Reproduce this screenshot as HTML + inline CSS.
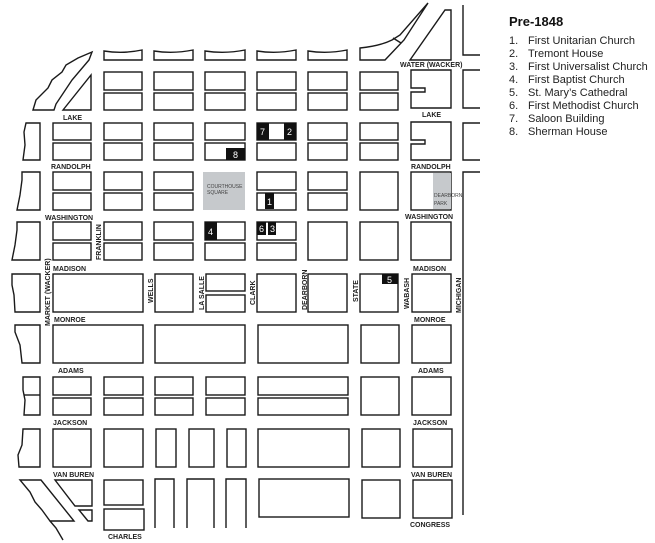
<!DOCTYPE html>
<html><head><meta charset="utf-8"><style>
html,body{margin:0;padding:0;background:#fff;}
svg{display:block;}
.b{fill:#fff;stroke:#1a1a1a;stroke-width:1.4;}
.l{font-family:"Liberation Sans",sans-serif;font-weight:bold;font-size:7px;fill:#222;}
.n{font-family:"Liberation Sans",sans-serif;font-size:9px;fill:#fff;}
.g{fill:#c6c9cc;}
.lg{font-family:"Liberation Sans",sans-serif;font-size:11px;fill:#222;}
</style></head><body>
<svg width="655" height="543" viewBox="0 0 655 543" xmlns="http://www.w3.org/2000/svg">
<g class="b">
<!-- river top blocks -->
<path d="M104 51 Q123 54 142 50 V60 H104Z"/>
<path d="M154 51 Q173 54 193 50 V60 H154Z"/>
<path d="M205 51 Q225 54 245 50 V60 H205Z"/>
<path d="M257 51 Q276 54 296 50 V60 H257Z"/>
<path d="M308 51 Q327 54 347 50 V60 H308Z"/>
<path d="M360 48 Q380 46 392 40 L400 35 L428 3 L404 40 L385 60 H360Z"/>
<path d="M393 38 L401 43"/>
<path d="M410 60 L445 10 H451 V60Z"/>
<!-- top left diagonals -->
<path d="M33 110 L36 100 L48 88 L52 80 L62 72 L66 65 L78 58 L92 52 L89 60 L72 80 L56 104 L54 110Z"/>
<path d="M63 110 L91 75 V110Z"/>
<!-- right edge -->
<path d="M463 5 V55 H480" fill="none"/>
<path d="M480 70 H463 V108 H480" fill="none"/>
<path d="M480 123 H463 V160 H480" fill="none"/>
<path d="M480 172 H463 V515" fill="none"/>
<!-- rows r1 r2 -->
<rect x="104" y="72" width="38" height="18"/><rect x="154" y="72" width="39" height="18"/><rect x="205" y="72" width="40" height="18"/><rect x="257" y="72" width="39" height="18"/><rect x="308" y="72" width="39" height="18"/><rect x="360" y="72" width="38" height="18"/>
<rect x="104" y="93" width="38" height="17"/><rect x="154" y="93" width="39" height="17"/><rect x="205" y="93" width="40" height="17"/><rect x="257" y="93" width="39" height="17"/><rect x="308" y="93" width="39" height="17"/><rect x="360" y="93" width="38" height="17"/>
<path d="M411 70 H451 V108 H411 V92 H425 V88 H411Z"/>
<!-- r3 r4 -->
<path d="M26 123 H40 V160 H23 L25 145 L24 132Z"/>
<rect x="53" y="123" width="38" height="17"/><rect x="104" y="123" width="38" height="17"/><rect x="154" y="123" width="39" height="17"/><rect x="205" y="123" width="40" height="17"/><rect x="257" y="123" width="39" height="17"/><rect x="308" y="123" width="39" height="17"/><rect x="360" y="123" width="38" height="17"/>
<rect x="53" y="143" width="38" height="17"/><rect x="104" y="143" width="38" height="17"/><rect x="154" y="143" width="39" height="17"/><rect x="205" y="143" width="40" height="17"/><rect x="257" y="143" width="39" height="17"/><rect x="308" y="143" width="39" height="17"/><rect x="360" y="143" width="38" height="17"/>
<path d="M411 122 H451 V160 H411 V144 H425 V140 H411Z"/>
<!-- r5 r6 -->
<path d="M22 172 H40 V210 H17 L20 195 L22 180Z"/>
<rect x="53" y="172" width="38" height="18"/><rect x="104" y="172" width="38" height="18"/><rect x="154" y="172" width="39" height="18"/><rect x="257" y="172" width="39" height="18"/><rect x="308" y="172" width="39" height="18"/>
<rect x="53" y="193" width="38" height="17"/><rect x="104" y="193" width="38" height="17"/><rect x="154" y="193" width="39" height="17"/><rect x="257" y="193" width="39" height="17"/><rect x="308" y="193" width="39" height="17"/>
<rect x="360" y="172" width="38" height="38"/><rect x="411" y="172" width="40" height="38"/>
<!-- r7 r8 -->
<path d="M17 222 H40 V260 H12 L15 245 L17 230Z"/>
<rect x="53" y="222" width="38" height="18"/><rect x="104" y="222" width="38" height="18"/><rect x="154" y="222" width="39" height="18"/><rect x="205" y="222" width="40" height="18"/><rect x="257" y="222" width="39" height="18"/>
<rect x="53" y="243" width="38" height="17"/><rect x="104" y="243" width="38" height="17"/><rect x="154" y="243" width="39" height="17"/><rect x="205" y="243" width="40" height="17"/><rect x="257" y="243" width="39" height="17"/>
<rect x="308" y="222" width="39" height="38"/><rect x="360" y="222" width="38" height="38"/><rect x="411" y="222" width="40" height="38"/>
<!-- monroe row -->
<path d="M12 274 H40 V312 H15 L14 295 L12 285Z"/>
<rect x="53" y="274" width="90" height="38"/><rect x="155" y="274" width="38" height="38"/>
<rect x="206" y="274" width="39" height="17"/><rect x="206" y="295" width="39" height="17"/>
<rect x="257" y="274" width="39" height="38"/><rect x="308" y="274" width="39" height="38"/><rect x="360" y="274" width="38" height="38"/><rect x="412" y="274" width="39" height="38"/>
<!-- adams row -->
<path d="M15 325 H40 V363 H22 L20 345 L15 332Z"/>
<rect x="53" y="325" width="90" height="38"/><rect x="155" y="325" width="90" height="38"/><rect x="258" y="325" width="90" height="38"/><rect x="361" y="325" width="38" height="38"/><rect x="412" y="325" width="39" height="38"/>
<!-- 377-415 -->
<path d="M23 377 H40 V415 H24 L25 400 L23 390Z"/><path d="M24 395 H40"/>
<rect x="53" y="377" width="38" height="18"/><rect x="104" y="377" width="39" height="18"/><rect x="155" y="377" width="38" height="18"/><rect x="206" y="377" width="39" height="18"/><rect x="258" y="377" width="90" height="18"/>
<rect x="53" y="398" width="38" height="17"/><rect x="104" y="398" width="39" height="17"/><rect x="155" y="398" width="38" height="17"/><rect x="206" y="398" width="39" height="17"/><rect x="258" y="398" width="90" height="17"/>
<rect x="361" y="377" width="38" height="38"/><rect x="412" y="377" width="39" height="38"/>
<!-- 429-467 -->
<path d="M23 429 H40 V467 H19 L18 455 L22 445Z"/>
<rect x="53" y="429" width="38" height="38"/><rect x="104" y="429" width="39" height="38"/><rect x="156" y="429" width="20" height="38"/><rect x="189" y="429" width="25" height="38"/><rect x="227" y="429" width="19" height="38"/><rect x="258" y="429" width="91" height="38"/><rect x="362" y="429" width="38" height="38"/><rect x="413" y="429" width="39" height="38"/>
<!-- bottom -->
<path d="M20 480 H41 L74 521 H50 L42 510 L35 502 L30 492Z"/>
<path d="M50 521 L56 528 L63 540" fill="none"/>
<path d="M55 480 H92 V506 H75Z"/>
<path d="M79 510 H92 V521 H88Z"/>
<rect x="104" y="480" width="39" height="25"/><rect x="104" y="509" width="40" height="21"/>
<path d="M155 528 V479 H174 V528 M187 528 V479 H214 V528 M226 528 V479 H246 V528" fill="none"/>
<rect x="259" y="479" width="90" height="38"/><rect x="362" y="480" width="38" height="38"/><rect x="413" y="480" width="39" height="38"/>
</g>
<!-- gray areas -->
<rect class="g" x="203" y="172" width="42" height="38"/>
<text x="207" y="188" style="font-family:'Liberation Sans',sans-serif;font-size:5px;fill:#444">COURTHOUSE</text>
<text x="207" y="194" style="font-family:'Liberation Sans',sans-serif;font-size:5px;fill:#444">SQUARE</text>
<rect class="g" x="433" y="173" width="18" height="36"/>
<text x="434" y="197" style="font-family:'Liberation Sans',sans-serif;font-size:5px;fill:#444">DEARBORN</text>
<text x="434" y="205" style="font-family:'Liberation Sans',sans-serif;font-size:5px;fill:#444">PARK</text>
<!-- markers -->
<g fill="#111">
<rect x="257" y="123" width="12" height="17"/><rect x="284" y="123" width="12" height="17"/>
<rect x="226" y="148" width="19" height="12"/>
<rect x="265" y="193" width="9" height="16"/>
<rect x="205" y="222" width="12" height="18"/>
<rect x="257" y="222" width="9" height="13"/><rect x="268" y="222" width="8" height="13"/>
<rect x="382" y="274" width="16" height="10"/>
</g>
<text class="n" x="260" y="135">7</text><text class="n" x="287" y="135">2</text>
<text class="n" x="233" y="158">8</text><text class="n" x="267" y="205">1</text>
<text class="n" x="208" y="235">4</text><text class="n" x="259" y="232">6</text><text class="n" x="270" y="232">3</text>
<text class="n" x="387" y="283">5</text>
<!-- street labels -->
<g class="l">
<text x="400" y="67">WATER (WACKER)</text>
<text x="63" y="120">LAKE</text><text x="422" y="117">LAKE</text>
<text x="51" y="169">RANDOLPH</text><text x="411" y="169">RANDOLPH</text>
<text x="45" y="220">WASHINGTON</text><text x="405" y="219">WASHINGTON</text>
<text x="53" y="271">MADISON</text><text x="413" y="271">MADISON</text>
<text x="54" y="322">MONROE</text><text x="414" y="322">MONROE</text>
<text x="58" y="373">ADAMS</text><text x="418" y="373">ADAMS</text>
<text x="53" y="425">JACKSON</text><text x="413" y="425">JACKSON</text>
<text x="53" y="477">VAN BUREN</text><text x="411" y="477">VAN BUREN</text>
<text x="410" y="527">CONGRESS</text>
<text x="108" y="539">CHARLES</text>
<text transform="translate(50,326) rotate(-90)">MARKET (WACKER)</text>
<text transform="translate(101,260) rotate(-90)">FRANKLIN</text>
<text transform="translate(153,303) rotate(-90)">WELLS</text>
<text transform="translate(204,310) rotate(-90)">LA SALLE</text>
<text transform="translate(255,305) rotate(-90)">CLARK</text>
<text transform="translate(307,310) rotate(-90)">DEARBORN</text>
<text transform="translate(358,302) rotate(-90)">STATE</text>
<text transform="translate(409,309) rotate(-90)">WABASH</text>
<text transform="translate(461,313) rotate(-90)">MICHIGAN</text>
</g>
<!-- legend -->
<text x="509" y="26" style="font-family:'Liberation Sans',sans-serif;font-weight:bold;font-size:13px;fill:#111">Pre-1848</text>
<g class="lg">
<text x="509" y="44">1.</text><text x="528" y="44">First Unitarian Church</text>
<text x="509" y="57">2.</text><text x="528" y="57">Tremont House</text>
<text x="509" y="70">3.</text><text x="528" y="70">First Universalist Church</text>
<text x="509" y="83">4.</text><text x="528" y="83">First Baptist Church</text>
<text x="509" y="96">5.</text><text x="528" y="96">St. Mary’s Cathedral</text>
<text x="509" y="109">6.</text><text x="528" y="109">First Methodist Church</text>
<text x="509" y="122">7.</text><text x="528" y="122">Saloon Building</text>
<text x="509" y="135">8.</text><text x="528" y="135">Sherman House</text>
</g>
</svg>
</body></html>
